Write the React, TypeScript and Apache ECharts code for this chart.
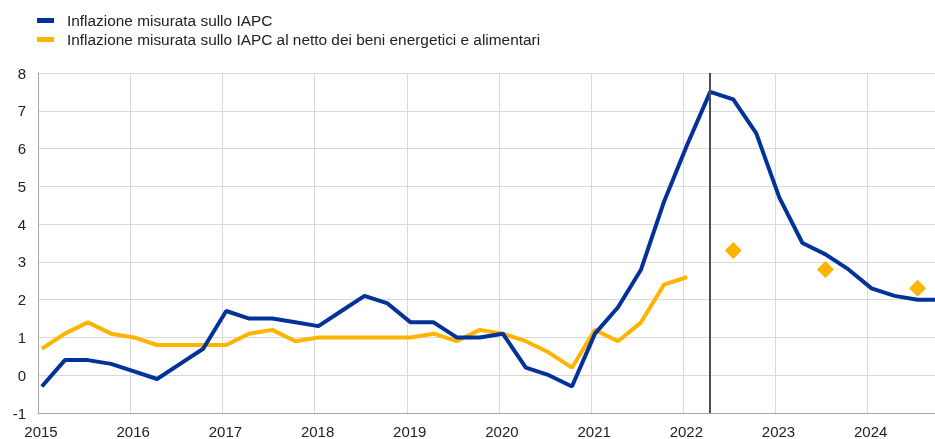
import React, { useEffect, useRef } from "react";
import * as echarts from "echarts";

const periods = [
  "2015-Q1", "2015-Q2", "2015-Q3", "2015-Q4",
  "2016-Q1", "2016-Q2", "2016-Q3", "2016-Q4",
  "2017-Q1", "2017-Q2", "2017-Q3", "2017-Q4",
  "2018-Q1", "2018-Q2", "2018-Q3", "2018-Q4",
  "2019-Q1", "2019-Q2", "2019-Q3", "2019-Q4",
  "2020-Q1", "2020-Q2", "2020-Q3", "2020-Q4",
  "2021-Q1", "2021-Q2", "2021-Q3", "2021-Q4",
  "2022-Q1", "2022-Q2", "2022-Q3", "2022-Q4",
  "2023-Q1", "2023-Q2", "2023-Q3", "2023-Q4",
  "2024-Q1", "2024-Q2", "2024-Q3", "2024-Q4",
];

const hicp = [
  -0.3, 0.4, 0.4, 0.3,
  0.1, -0.1, 0.3, 0.7,
  1.7, 1.5, 1.5, 1.4,
  1.3, 1.7, 2.1, 1.9,
  1.4, 1.4, 1.0, 1.0,
  1.1, 0.2, 0.0, -0.3,
  1.1, 1.8, 2.8, 4.6,
  6.1, 7.5, 7.3, 6.4,
  4.7, 3.5, 3.2, 2.8,
  2.3, 2.1, 2.0, 2.0,
];

const hicpCore = [
  0.7, 1.1, 1.4, 1.1,
  1.0, 0.8, 0.8, 0.8,
  0.8, 1.1, 1.2, 0.9,
  1.0, 1.0, 1.0, 1.0,
  1.0, 1.1, 0.9, 1.2,
  1.1, 0.9, 0.6, 0.2,
  1.2, 0.9, 1.4, 2.4,
  2.6,
];

const projPeriods = ["2022-Q3", "2023-Q3", "2024-Q3"];
const projCore = [3.3, 2.8, 2.3];

const cutoffPeriod = "2022-Q2";

const seriesNames = [
  "Inflazione misurata sullo IAPC",
  "Inflazione misurata sullo IAPC al netto dei beni energetici e alimentari",
];

const xMin = 2015;
const xMax = 2024.73;
const yMin = -1;
const yMax = 8;

// quarter label -> position on a year axis (centre of first month of quarter)
const pos = (p: string) => {
  const [y, q] = p.split("-Q");
  return Number(y) + (Number(q) - 1) / 4 + 1 / 24;
};

const BLUE = "#003299";
const YELLOW = "#ffb400";
const FONT = "'Liberation Sans', Arial, sans-serif";

export default function App() {
  const ref = useRef<HTMLDivElement>(null);

  useEffect(() => {
    if (!ref.current) return;
    const chart = echarts.init(ref.current, null, { renderer: "svg" });
    chart.setOption({
      animation: false,
      textStyle: { fontFamily: FONT },
      legend: {
        orient: "vertical",
        left: 32,
        top: 8,
        itemWidth: 17,
        itemHeight: 5,
        itemGap: 4,
        icon: "rect",
        data: seriesNames,
        textStyle: { fontSize: 15.4, color: "#222", fontFamily: FONT, padding: [0, 0, 0, 8] },
      },
      grid: { left: 38, right: 0, top: 73, bottom: 26, containLabel: false },
      xAxis: {
        type: "value",
        min: xMin,
        max: xMax,
        interval: 1,
        axisLine: { show: true, onZero: false, lineStyle: { color: "#a6a6a6", width: 1 } },
        axisTick: { show: false },
        axisLabel: {
          fontSize: 15,
          color: "#222",
          margin: 11,
          padding: [0, 0, 0, 6],
          showMaxLabel: false,
          formatter: (v: number) => (Number.isInteger(v) ? String(v) : ""),
        },
        splitLine: { show: true, lineStyle: { color: "#d9d9d9", width: 1 } },
      },
      yAxis: {
        type: "value",
        min: yMin,
        max: yMax,
        interval: 1,
        axisLine: { show: true, lineStyle: { color: "#a6a6a6", width: 1 } },
        axisTick: { show: false },
        axisLabel: { fontSize: 15, color: "#222", margin: 12 },
        splitLine: { show: true, lineStyle: { color: "#d9d9d9", width: 1 } },
      },
      series: [
        {
          name: seriesNames[0],
          type: "line",
          data: hicp.map((v, i) => [pos(periods[i]), v]),
          showSymbol: false,
          symbol: "none",
          lineStyle: { color: BLUE, width: 4 },
          itemStyle: { color: BLUE },
          z: 3,
          markLine: {
            silent: true,
            symbol: "none",
            label: { show: false },
            lineStyle: { color: "#4d4d4d", width: 2, type: "solid" },
            data: [{ xAxis: pos(cutoffPeriod) }],
          },
        },
        {
          name: seriesNames[1],
          type: "line",
          data: hicpCore.map((v, i) => [pos(periods[i]), v]),
          showSymbol: false,
          symbol: "none",
          lineStyle: { color: YELLOW, width: 4 },
          itemStyle: { color: YELLOW },
          z: 2,
        },
        {
          name: "proiezioni",
          type: "scatter",
          data: projCore.map((v, i) => [pos(projPeriods[i]), v]),
          symbol: "diamond",
          symbolSize: 17,
          itemStyle: { color: YELLOW, opacity: 1 },
          z: 4,
        },
      ],
    });
    return () => chart.dispose();
  }, []);

  return (
    <div
      ref={ref}
      style={{ position: "fixed", left: 0, top: 0, width: 935, height: 439 }}
    />
  );
}
